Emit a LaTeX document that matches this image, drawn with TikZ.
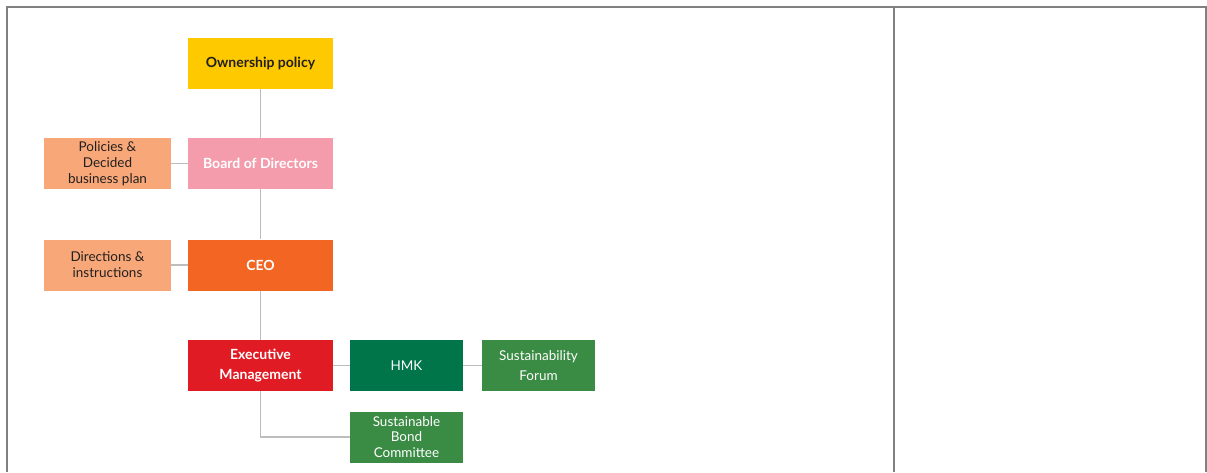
\documentclass[tikz,border=0pt]{standalone}
\usepackage{fontspec}
\setmainfont{Lato}
\definecolor{frame}{HTML}{808080}
\definecolor{conn}{HTML}{BDBDBD}
\definecolor{cyellow}{HTML}{FFC900}
\definecolor{cpink}{HTML}{F49CAB}
\definecolor{cpeach}{HTML}{F8A878}
\definecolor{corange}{HTML}{F26522}
\definecolor{cred}{HTML}{E01B24}
\definecolor{cdkgreen}{HTML}{00754A}
\definecolor{cgreen}{HTML}{3A8B43}
\definecolor{ctext}{HTML}{231F20}
\begin{document}
\begin{tikzpicture}[x=1pt,y=-1pt,
  box/.style={draw=none,minimum width=#1,inner sep=0pt,align=center,font=\fontsize{13.5}{15.8}\selectfont},
  box/.default=145pt,
  bigbox/.style={box=145pt,minimum height=51pt},
  smallbox/.style={box=127pt,minimum height=51pt},
  greenbox/.style={box=113pt,minimum height=51pt},
  boldtext/.style={font=\fontsize{14}{20}\selectfont\bfseries},
  link/.style={draw=conn,line width=1.8pt},
  framel/.style={draw=frame,line width=2pt}]
\useasboundingbox (0,0) rectangle (1207,472);
\fill[white] (0,0) rectangle (1207,472);
% frame
\draw[framel] (7,472) -- (7,7) -- (1205.5,7) -- (1205.5,472);
\draw[framel] (893.5,7) -- (893.5,472);
% nodes
\node[bigbox,fill=cyellow,text=ctext,boldtext] (own) at (260.5,63.5) {Ownership policy};
\node[bigbox,fill=cpink,text=white,boldtext] (board) at (260.5,163.5) {Board of Directors};
\node[smallbox,fill=cpeach,text=ctext] (pol) at (107.5,163.5) {Policies \&\\Decided\\business plan};
\node[bigbox,fill=corange,text=white,boldtext] (ceo) at (260.5,265) {CEO};
\node[smallbox,fill=cpeach,text=ctext] (dir) at (107.5,265) {Directions \&\\instructions};
\node[bigbox,fill=cred,text=white,boldtext] (exec) at (260.5,365.5) {Executive\\Management};
\node[greenbox,fill=cdkgreen,text=white] (hmk) at (406.5,365.5) {HMK};
\node[greenbox,fill=cgreen,text=white,font=\fontsize{13.5}{20}\selectfont] (sf) at (538.5,365.5) {Sustainability\\Forum};
\node[greenbox,fill=cgreen,text=white] (sbc) at (406.5,437) {Sustainable\\Bond\\Committee};
% connectors
\draw[link] (own.south) -- (board.north);
\draw[link] (pol.east) -- (board.west);
\draw[link] (board.south) -- (ceo.north);
\draw[link] (dir.east) -- (ceo.west);
\draw[link] (ceo.south) -- (exec.north);
\draw[link] (exec.east) -- (hmk.west);
\draw[link] (hmk.east) -- (sf.west);
\draw[link] (exec.south) |- (sbc.west);
\end{tikzpicture}
\end{document}
